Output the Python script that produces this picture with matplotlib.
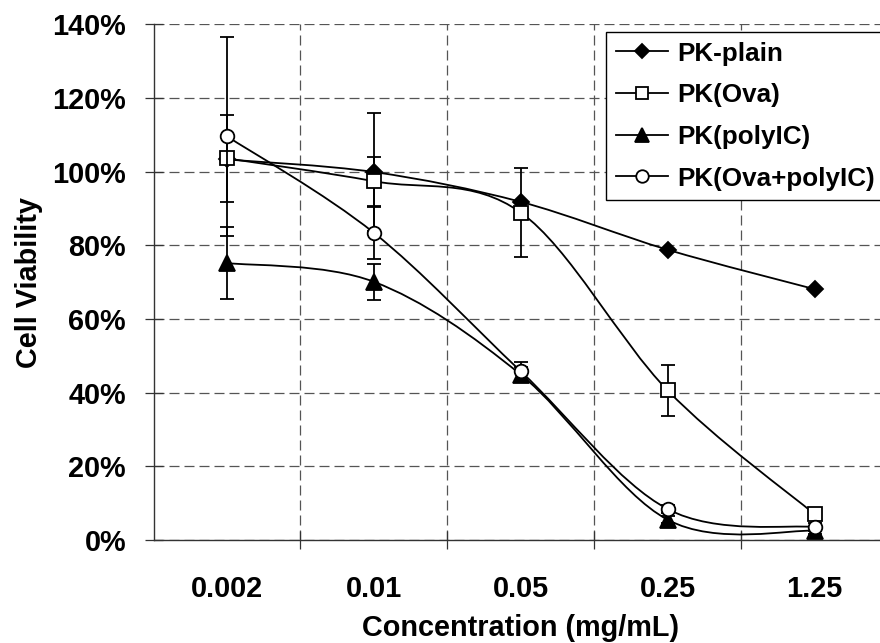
import matplotlib
matplotlib.use("Agg")
import matplotlib.pyplot as plt
import numpy as np
from matplotlib.path import Path
from matplotlib.patches import PathPatch
from matplotlib.lines import Line2D

# ---- data ----
categories = ["0.002", "0.01", "0.05", "0.25", "1.25"]
series_names = ["PK-plain", "PK(Ova)", "PK(polyIC)", "PK(Ova+polyIC)"]
pk_plain = [103.3, 99.9, 91.8, 78.8, 68.1]
pk_plain_err = [0.0, 16.0, 0.0, 0.0, 0.0]
pk_ova = [103.6, 97.4, 88.9, 40.6, 7.0]
pk_ova_err = [11.8, 6.7, 12.0, 6.9, 1.5]
pk_polyic = [75.2, 70.1, 44.9, 5.5, 2.5]
pk_polyic_err = [9.8, 4.9, 2.0, 1.0, 1.0]
pk_ova_polyic = [109.6, 83.4, 45.8, 8.4, 3.5]
pk_ova_polyic_err = [27.0, 7.1, 2.5, 1.0, 1.0]
y_ticks = [0, 20, 40, 60, 80, 100, 120, 140]
y_tick_labels = [f"{v}%" for v in y_ticks]

FONT = "Liberation Sans"
W, H = 880, 643
fig = plt.figure(figsize=(W / 100, H / 100), dpi=100)
ax = fig.add_axes([153.5 / W, (H - 540) / H, 734.5 / W, (540 - 24.3) / H])

x = np.arange(len(categories))


def smooth_path(xs, ys):
    pts = np.column_stack([xs, ys]).astype(float)
    n = len(pts)
    verts = [pts[0]]
    codes = [Path.MOVETO]
    for i in range(n - 1):
        p0 = pts[i - 1] if i > 0 else pts[i]
        p1 = pts[i]
        p2 = pts[i + 1]
        p3 = pts[i + 2] if i + 2 < n else pts[i + 1]
        c1 = p1 + (p2 - p0) / 6.0
        c2 = p2 - (p3 - p1) / 6.0
        verts += [c1, c2, p2]
        codes += [Path.CURVE4] * 3
    return Path(verts, codes)


styles = [
    dict(marker="D", ms=8.2, mfc="black"),
    dict(marker="s", ms=9.8, mfc="white"),
    dict(marker="^", ms=11.0, mfc="black"),
    dict(marker="o", ms=9.8, mfc="white"),
]
all_vals = [pk_plain, pk_ova, pk_polyic, pk_ova_polyic]
all_errs = [pk_plain_err, pk_ova_err, pk_polyic_err, pk_ova_polyic_err]

LW = 1.3
handles = []
z = 3
for name, vals, errs, st in zip(series_names, all_vals, all_errs, styles):
    vals = np.array(vals, float)
    errs = np.array(errs, float)
    patch = PathPatch(smooth_path(x, vals), facecolor="none", edgecolor="black",
                      lw=LW, transform=ax.transData, zorder=z)
    ax.add_patch(patch)
    m = errs > 0
    if m.any():
        ax.errorbar(x[m], vals[m], yerr=errs[m], fmt="none", ecolor="black",
                    elinewidth=LW, capsize=4.7, capthick=LW, zorder=z + 0.1)
    ax.plot(x, vals, linestyle="none", marker=st["marker"], ms=st["ms"],
            mfc=st["mfc"], mec="black", mew=LW, zorder=z + 0.2)
    handles.append(Line2D([], [], color="black", lw=LW, marker=st["marker"],
                          ms=st["ms"] * 0.92, mfc=st["mfc"], mec="black", mew=LW,
                          label=name))
    z += 1

ax.set_xlim(-0.5, len(categories) - 0.5)
ax.set_ylim(0, 140)

ax.set_xticks(x)
ax.set_xticklabels(categories)
ax.set_xticks(x[:-1] + 0.5, minor=True)
ax.tick_params(axis="x", which="major", length=0, pad=25)
ax.tick_params(axis="x", which="minor", direction="inout", length=12.5, width=0.9,
               color="#333333")
ax.set_yticks(y_ticks)
ax.set_yticklabels(y_tick_labels)
ax.tick_params(axis="y", which="major", direction="inout", length=12.5, width=0.9,
               color="#333333", pad=13.5)

for lab in ax.get_xticklabels() + ax.get_yticklabels():
    lab.set_fontfamily(FONT)
    lab.set_fontweight("bold")
    lab.set_fontsize(20.8)

ax.grid(True, axis="x", which="minor", color="#555555", lw=0.9,
        linestyle=(0, (8, 4)))
ax.grid(True, axis="y", which="major", color="#555555", lw=0.9,
        linestyle=(0, (8, 4)))
ax.set_axisbelow(True)

for s in ["top", "right"]:
    ax.spines[s].set_visible(False)
for s in ["left", "bottom"]:
    ax.spines[s].set_color("#333333")
    ax.spines[s].set_linewidth(1.0)
    ax.spines[s].set_zorder(2.5)

ax.set_xlabel("Concentration (mg/mL)", fontfamily=FONT, fontweight="bold",
              fontsize=20.8, labelpad=8)
ax.set_ylabel("Cell Viability", fontfamily=FONT, fontweight="bold",
              fontsize=20.8, labelpad=7)

leg = fig.legend(handles=handles, loc="upper left",
                 bbox_to_anchor=(606 / W, 1 - 31.7 / H),
                 prop={"family": FONT, "weight": "bold", "size": 18.7},
                 frameon=True, fancybox=False, framealpha=1, edgecolor="black",
                 handlelength=2.0, handletextpad=0.35, labelspacing=0.68,
                 borderpad=0.38, borderaxespad=0)
leg.get_frame().set_linewidth(1.0)

fig.savefig("out.png", dpi=100)
